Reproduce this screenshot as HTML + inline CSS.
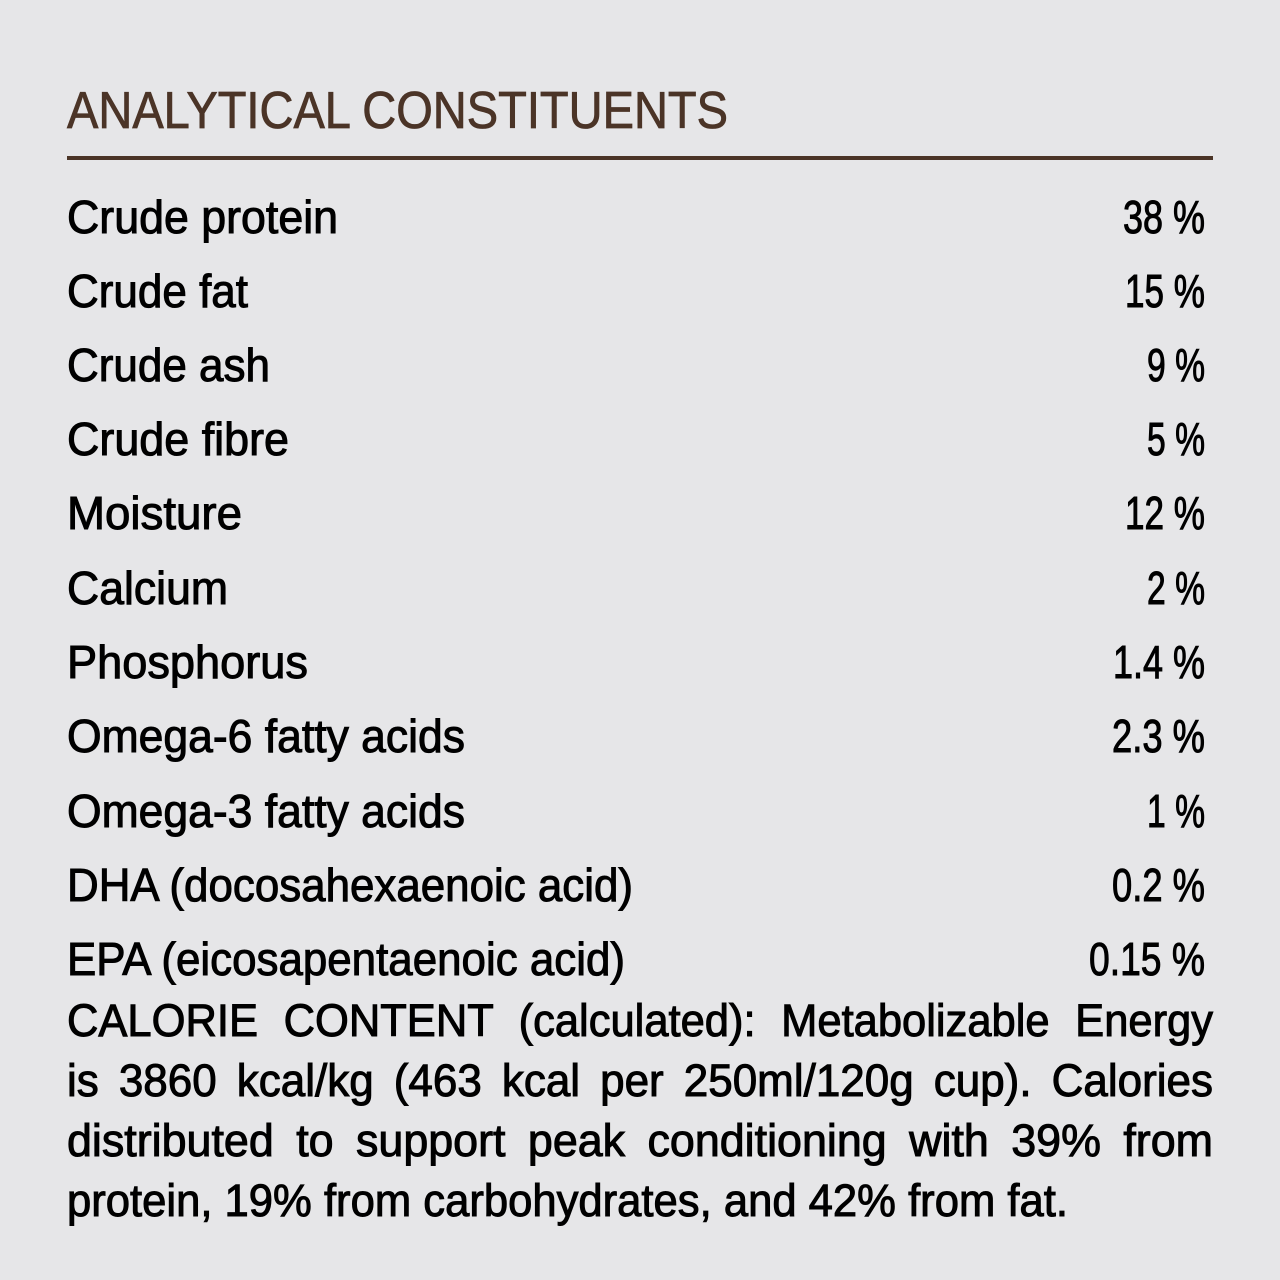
<!DOCTYPE html>
<html><head><meta charset="utf-8"><style>
html,body{margin:0;padding:0;background:#e6e6e8;}
svg{display:block}
text{font-family:"Liberation Sans",sans-serif;}
</style></head><body>
<svg width="1280" height="1280" viewBox="0 0 1280 1280" xmlns="http://www.w3.org/2000/svg">
<rect width="1280" height="1280" fill="#e6e6e8"/>
<text x="67" y="128" font-size="52" fill="#4b3427" stroke="#4b3427" stroke-width="0.8" textLength="661" lengthAdjust="spacingAndGlyphs">ANALYTICAL CONSTITUENTS</text>
<rect x="67" y="156" width="1146" height="4" fill="#4b3427"/>
<g font-size="46" fill="#000" stroke="#000" stroke-width="1">
<text x="67" y="233" textLength="271" lengthAdjust="spacingAndGlyphs">Crude protein</text>
<text x="67" y="307" textLength="181" lengthAdjust="spacingAndGlyphs">Crude fat</text>
<text x="67" y="381" textLength="203" lengthAdjust="spacingAndGlyphs">Crude ash</text>
<text x="67" y="455" textLength="222" lengthAdjust="spacingAndGlyphs">Crude fibre</text>
<text x="67" y="529" textLength="175" lengthAdjust="spacingAndGlyphs">Moisture</text>
<text x="67" y="604" textLength="161" lengthAdjust="spacingAndGlyphs">Calcium</text>
<text x="67" y="678" textLength="241" lengthAdjust="spacingAndGlyphs">Phosphorus</text>
<text x="67" y="752" textLength="398" lengthAdjust="spacingAndGlyphs">Omega-6 fatty acids</text>
<text x="67" y="827" textLength="398" lengthAdjust="spacingAndGlyphs">Omega-3 fatty acids</text>
<text x="67" y="901" textLength="566" lengthAdjust="spacingAndGlyphs">DHA (docosahexaenoic acid)</text>
<text x="67" y="975" textLength="558" lengthAdjust="spacingAndGlyphs">EPA (eicosapentaenoic acid)</text>
<text x="1123" y="233" textLength="82" lengthAdjust="spacingAndGlyphs">38 %</text>
<text x="1125" y="307" textLength="80" lengthAdjust="spacingAndGlyphs">15 %</text>
<text x="1147" y="381" textLength="58" lengthAdjust="spacingAndGlyphs">9 %</text>
<text x="1147" y="455" textLength="58" lengthAdjust="spacingAndGlyphs">5 %</text>
<text x="1125" y="529" textLength="80" lengthAdjust="spacingAndGlyphs">12 %</text>
<text x="1147" y="604" textLength="58" lengthAdjust="spacingAndGlyphs">2 %</text>
<text x="1113" y="678" textLength="92" lengthAdjust="spacingAndGlyphs">1.4 %</text>
<text x="1112" y="752" textLength="93" lengthAdjust="spacingAndGlyphs">2.3 %</text>
<text x="1147" y="827" textLength="58" lengthAdjust="spacingAndGlyphs">1 %</text>
<text x="1112" y="901" textLength="93" lengthAdjust="spacingAndGlyphs">0.2 %</text>
<text x="1089" y="975" textLength="116" lengthAdjust="spacingAndGlyphs">0.15 %</text>
</g>
<g font-size="45" fill="#000" stroke="#000" stroke-width="1">
<text x="67" y="1036" textLength="1146" lengthAdjust="spacingAndGlyphs" word-spacing="14">CALORIE CONTENT (calculated): Metabolizable Energy</text>
<text x="67" y="1096" textLength="1146" lengthAdjust="spacingAndGlyphs" word-spacing="8">is 3860 kcal/kg (463 kcal per 250ml/120g cup). Calories</text>
<text x="67" y="1156" textLength="1146" lengthAdjust="spacingAndGlyphs" word-spacing="10">distributed to support peak conditioning with 39% from</text>
<text x="67" y="1216" textLength="1001" lengthAdjust="spacingAndGlyphs">protein, 19% from carbohydrates, and 42% from fat.</text>
</g>
</svg>
</body></html>
